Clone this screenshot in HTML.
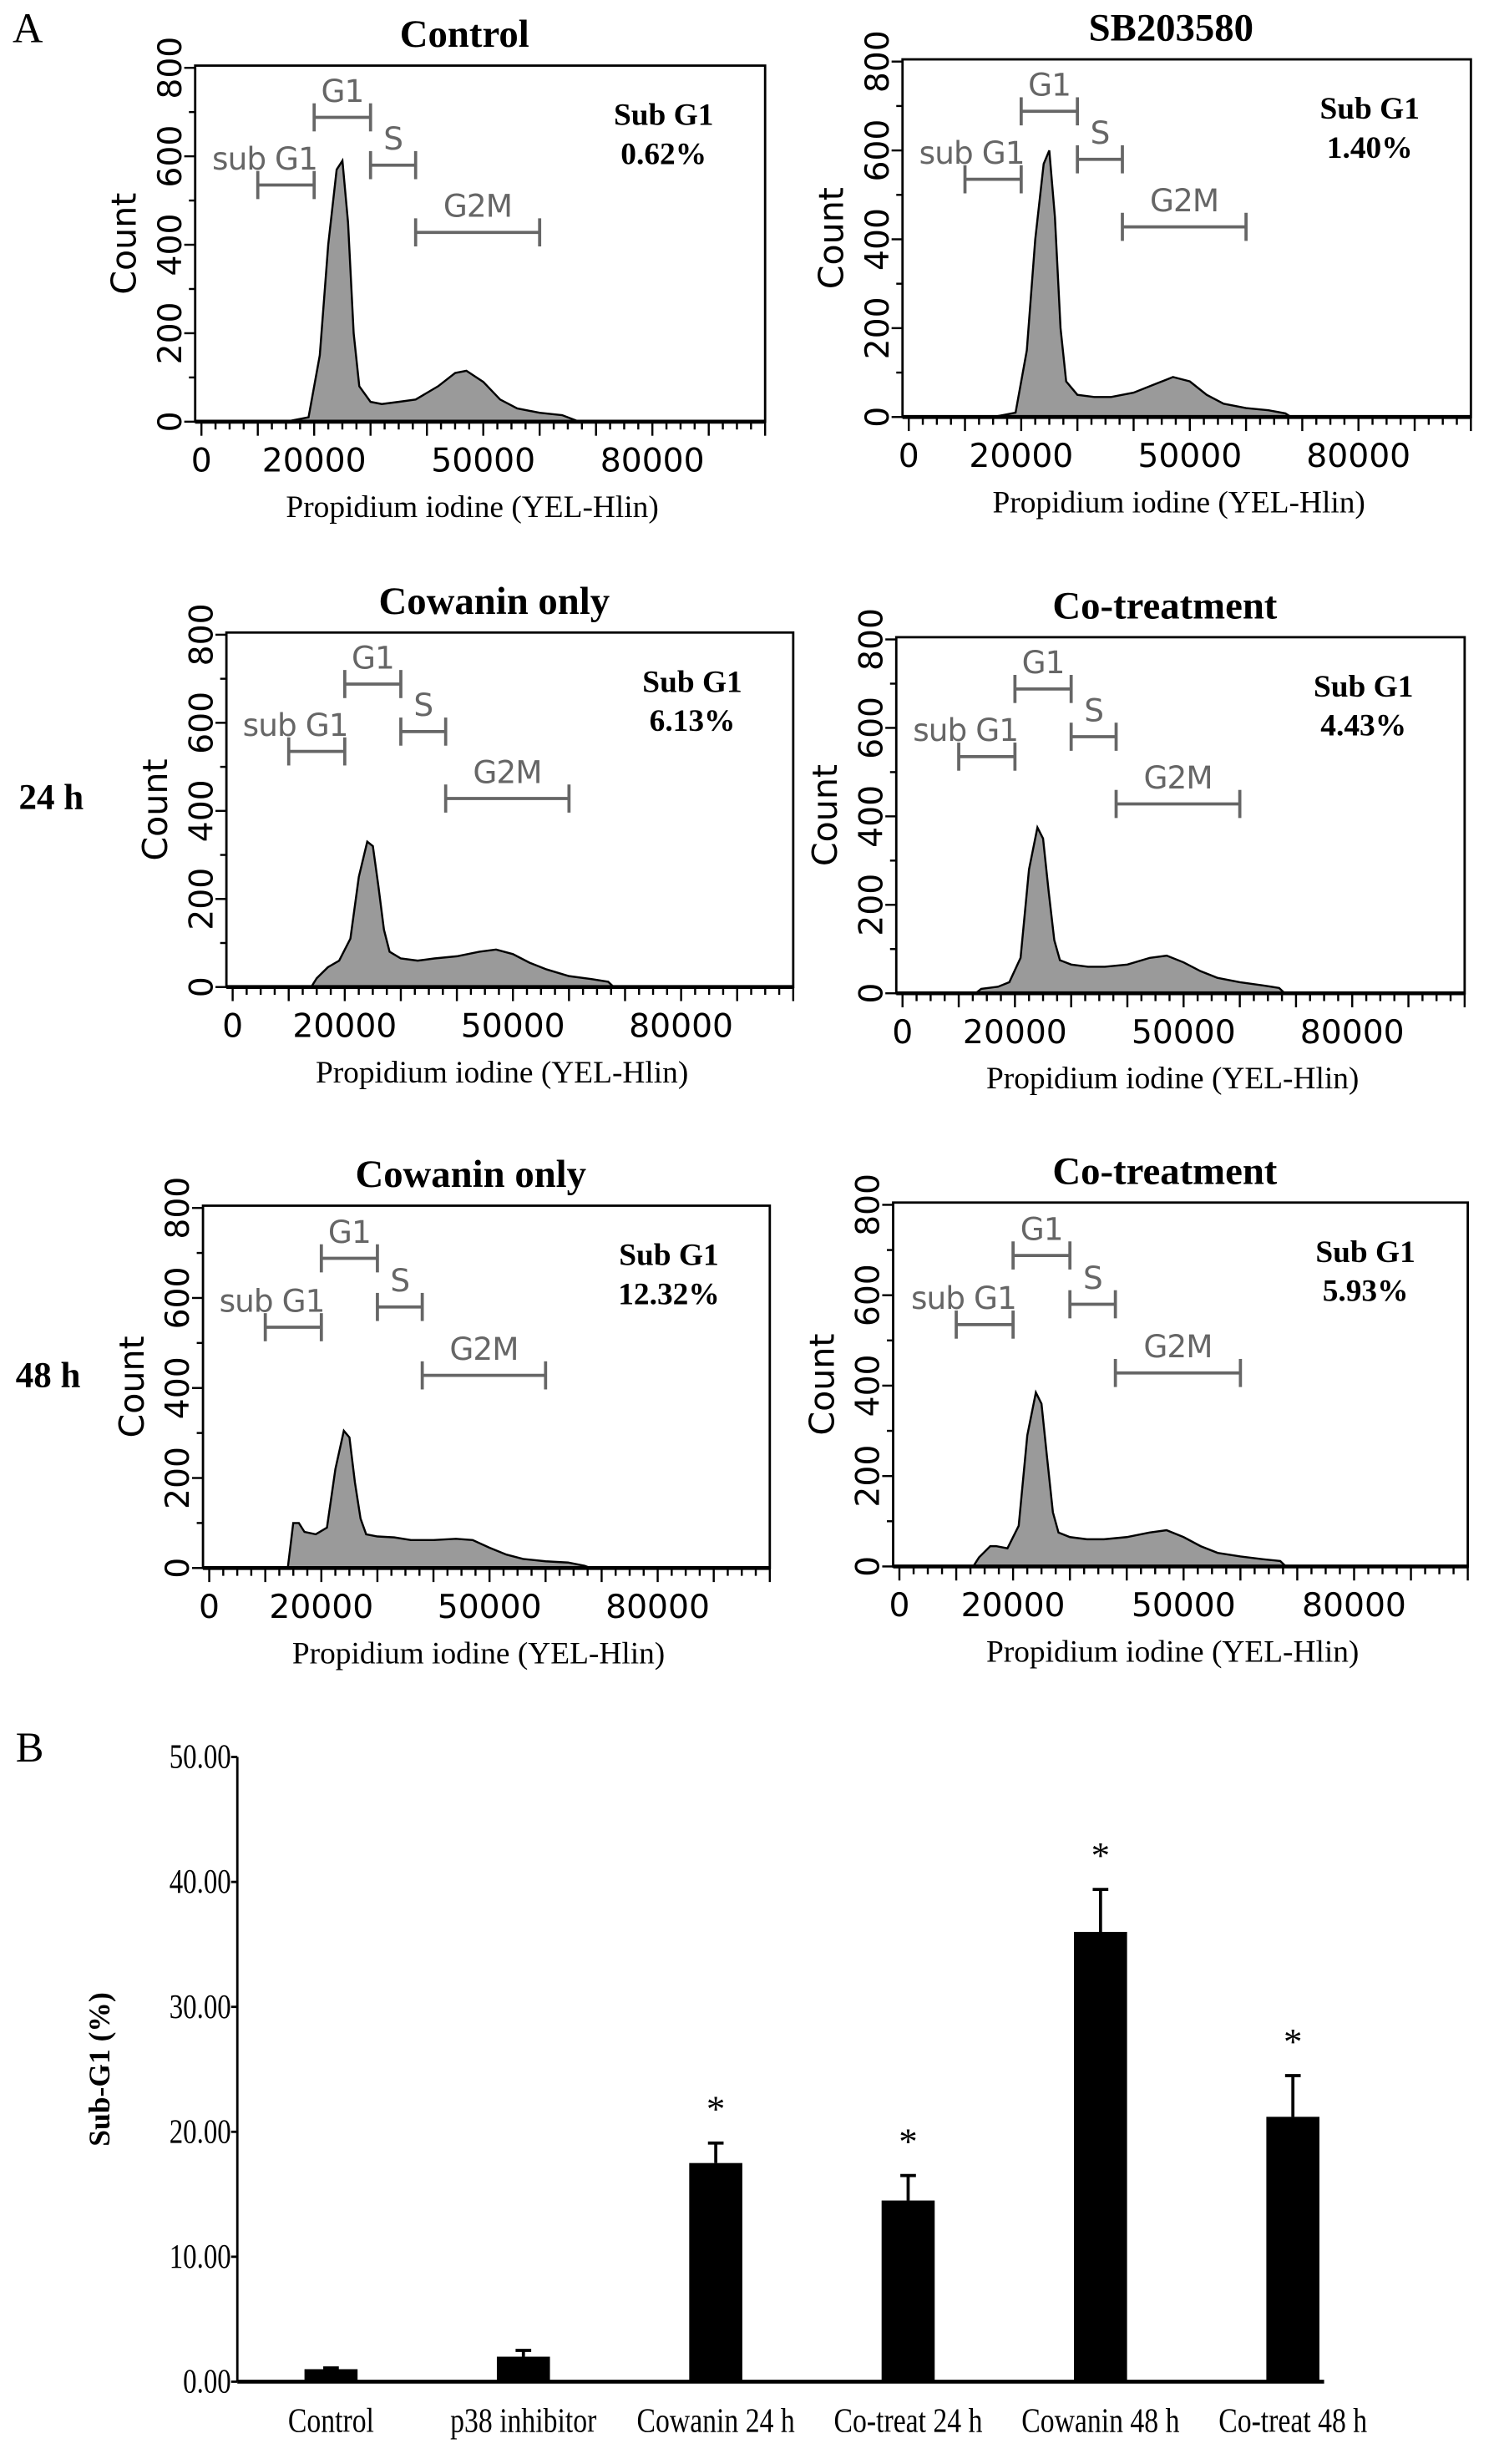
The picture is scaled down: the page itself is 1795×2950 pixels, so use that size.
<!DOCTYPE html>
<html><head><meta charset="utf-8"><style>
html,body{margin:0;padding:0;background:#fff}
svg{display:block}
.serif{font-family:"Liberation Serif",serif}
.sans{font-family:"DejaVu Sans","Liberation Sans",sans-serif}
</style></head><body>
<svg id="fig" width="1795" height="2950" viewBox="0 0 960 1577.7" xmlns="http://www.w3.org/2000/svg">
<rect width="960" height="1577.7" fill="#fff"/>
<text class="serif" x="8" y="27" font-size="27">A</text>
<text class="serif" x="10" y="1128" font-size="27">B</text>
<text class="serif" x="12" y="518" font-size="23" font-weight="bold">24 h</text>
<text class="serif" x="10" y="888" font-size="23" font-weight="bold">48 h</text>
<g id="hists"></g>
<g id="bars"></g>
</svg>
<script>
// ---- histogram data (x in units of 1000 PI intensity, count) ----
const xControl=[0,15,17,19,21,22.5,24,25,26,27,28,30,32,35,38,42,45,47,50,53,56,60,64,66,67,100];
const yControl=[0,0,5,10,150,400,570,590,450,200,80,45,40,45,50,80,110,115,90,50,30,20,15,5,0,0];
const xSB=[0,15,17,19,21,22.5,24,25,26,27,28,30,33,36,40,44,47,50,53,56,60,64,67,68,100];
const ySB=[0,0,5,10,150,400,570,600,450,200,80,50,45,45,55,75,90,80,50,30,20,15,8,0,0];
const xCow24=[0,14,15,17,19,21,22.5,24,25,26,27,28,30,33,36,40,44,47,50,53,56,60,64,67,68,100];
const yCow24=[0,0,20,45,60,110,250,330,320,230,130,80,65,60,65,70,80,85,75,55,40,25,18,12,0,0];
const xCo24=[0,13,14,17,19,21,22.5,24,25,26,27,28,30,33,36,40,44,47,50,53,56,60,64,67,68,100];
const yCo24=[0,0,10,15,25,80,280,375,350,230,120,75,65,60,60,65,80,85,70,50,35,25,18,12,0,0];
const xCow48=[0,13,14,15,16,17,19,21,22.5,24,25,26,27,28,30,33,36,40,44,47,50,53,56,60,64,67,68,100];
const yCow48=[0,0,0,100,100,80,75,90,220,305,290,190,110,75,70,68,62,62,65,62,45,30,20,15,12,5,0,0];
const xCo48=[0,13,14,16,17,19,21,22.5,24,25,26,27,28,30,33,36,40,44,47,50,53,56,60,64,67,68,100];
const yCo48=[0,0,20,45,45,40,90,290,385,360,240,120,75,65,60,60,65,75,80,65,45,30,22,16,12,0,0];
const subG1Values=["0.62%","1.40%","6.13%","4.43%","12.32%","5.93%"];
const titles=["Control","SB203580","Cowanin only","Co-treatment","Cowanin only","Co-treatment"];
const gateNames=["sub G1","G1","S","G2M"];
const gateStart=[10,20,30,38];
const gateEnd=[20,30,38,60];
const gateLevel=[535,688,580,428];
const yTicks=[0,200,400,600,800];
const xTickLabels=[0,20000,50000,80000];
// ---- bar chart data ----
const categories=["Control","p38 inhibitor","Cowanin 24 h","Co-treat 24 h","Cowanin 48 h","Co-treat 48 h"];
const barValues=[1.0,2.0,17.5,14.5,36.0,21.2];
const barErrors=[0.1,0.5,1.6,2.0,3.4,3.3];
const significant=[false,false,true,true,true,true];
const barTicks=[0,10,20,30,40,50];

const NS="http://www.w3.org/2000/svg";
function mk(tag,attrs,parent){const e=document.createElementNS(NS,tag);for(const k in attrs)e.setAttribute(k,attrs[k]);parent.appendChild(e);return e;}

const series=[[xControl,yControl],[xSB,ySB],[xCow24,yCow24],[xCo24,yCo24],[xCow48,yCow48],[xCo48,yCo48]];
const boxes=[[125,42,490,270],[578,38,942,267],[145,405,508,632],[574,408,938,636],[130,772,493,1004],[572,770,940,1003]];
const hg=document.getElementById('hists');
series.forEach((s,i)=>{
  const [L,T,R,B]=boxes[i];
  const sx=v=>L+4+(v/100)*(R-L-4);
  const sy=c=>B-(c/805)*(B-T);
  const g=mk('g',{},hg);
  
  
  const t=mk('text',{x:(L+R)/2-10,y:T-12,'text-anchor':'middle','font-size':25,'font-weight':'bold','class':'serif'},g);
  t.textContent=titles[i];
  
  
  const fr=mk('rect',{x:L,y:T,width:R-L,height:B-T,fill:'none',stroke:'#000','stroke-width':1.5},g);
  
  
  let d='M'+sx(s[0][0])+','+sy(0);
  s[0].forEach((x,k)=>{d+=' L'+sx(x).toFixed(1)+','+sy(s[1][k]).toFixed(1);});
  d+=' Z';
  const p=mk('path',{d:d,fill:'#9a9a9a',stroke:'#000','stroke-width':1.3},g);
  
  
  mk('line',{x1:L,x2:R,y1:B,y2:B,stroke:'#000','stroke-width':2.5},g);
  for(let v=0;v<=100;v+=2.5){
    const major=v%10===0;
    mk('line',{x1:sx(v),x2:sx(v),y1:B,y2:B+(major?9:5),stroke:'#000','stroke-width':1.3},g);
  }
  xTickLabels.forEach(v=>{
    const tl=mk('text',{x:sx(v/1000),y:B+32,'text-anchor':'middle','font-size':21,'class':'sans'},g);
    tl.textContent=v;
    
    
  });
  for(let c=0;c<=800;c+=100){mk('line',{x1:L-(c%200===0?7:4),x2:L,y1:sy(c),y2:sy(c),stroke:'#000','stroke-width':1.3},g);}
  yTicks.forEach(c=>{
    const yl=mk('text',{x:0,y:0,'text-anchor':'middle','font-size':21,'class':'sans',transform:`translate(${L-9},${sy(c)}) rotate(-90)`},g);
    yl.textContent=c;
    
    
  });
  const yt=mk('text',{'text-anchor':'middle','font-size':22,'class':'sans',transform:`translate(${L-38},${(T+B)/2}) rotate(-90)`},g);
  yt.textContent='Count';
  
  
  const xt=mk('text',{x:(L+R)/2-5,y:B+61,'text-anchor':'middle','font-size':20,'class':'serif'},g);
  xt.textContent='Propidium iodine (YEL-Hlin)';
  
  
  gateNames.forEach((n,k)=>{
    const y=sy(gateLevel[k]),x1=sx(gateStart[k]),x2=sx(gateEnd[k]);
    const gg=mk('g',{stroke:'#666','stroke-width':2},g);
    
    
    mk('line',{x1:x1,x2:x2,y1:y,y2:y},gg);
    mk('line',{x1:x1,x2:x1,y1:y-9,y2:y+9},gg);
    mk('line',{x1:x2,x2:x2,y1:y-9,y2:y+9},gg);
    const gx=k===0?x2+2:(x1+x2)/2;
    const gl=mk('text',{x:gx,y:y-10,'text-anchor':k===0?'end':'middle','font-size':20,fill:'#666',stroke:'none','class':'sans','letter-spacing':'-0.5'},g);
    gl.textContent=n;
    
    
  });
  const s1=mk('text',{x:sx(82),y:T+38,'text-anchor':'middle','font-size':20,'font-weight':'bold','class':'serif'},g);
  s1.textContent='Sub G1';
  
  
  const s2=mk('text',{x:sx(82),y:T+63,'text-anchor':'middle','font-size':20,'font-weight':'bold','class':'serif'},g);
  s2.textContent=subG1Values[i];
  
  
});

// ---- bar chart ----
const bg=document.getElementById('bars');
const AX=152,Y0=1525,Y50=1125,XR=848;
const by=v=>Y0-(v/50)*(Y0-Y50);
const bx=i=>212+i*123.2;
mk('line',{x1:AX,x2:AX,y1:Y50,y2:Y0,stroke:'#000','stroke-width':1.5},bg);
mk('line',{x1:AX,x2:XR,y1:Y0,y2:Y0,stroke:'#000','stroke-width':2.5},bg);
barTicks.forEach(v=>{
  mk('line',{x1:AX-4,x2:AX,y1:by(v),y2:by(v),stroke:'#000','stroke-width':1.5},bg);
  const t=mk('text',{x:0,y:7,'text-anchor':'end','font-size':22,'class':'serif',transform:`translate(${AX-4},${by(v)}) scale(0.8,1)`},bg);
  t.textContent=v.toFixed(2);
  
  
});
const yTitle=mk('text',{'text-anchor':'middle','font-size':19,'font-weight':'bold','class':'serif',transform:'translate(70,1325) rotate(-90)'},bg);
yTitle.textContent='Sub-G1 (%)';


categories.forEach((c,i)=>{
  const x=bx(i),w=34;
  const r=mk('rect',{x:x-w/2,y:by(barValues[i]),width:w,height:Y0-by(barValues[i]),fill:'#000'},bg);
  
  
  const top=by(barValues[i]+barErrors[i]);
  const e=mk('path',{d:`M${x},${by(barValues[i])} L${x},${top} M${x-5},${top} L${x+5},${top}`,stroke:'#000','stroke-width':2,fill:'none'},bg);
  
  
  if(significant[i]){
    const st=mk('text',{x:x,y:top-14,'text-anchor':'middle','font-size':24,'class':'serif'},bg);
    st.textContent='*';
    
    
  }
  const cl=mk('text',{x:0,y:0,'text-anchor':'middle','font-size':22,'class':'serif',transform:`translate(${x},1557) scale(0.82,1)`},bg);
  cl.textContent=c;
  
  
});
</script>
</body></html>
